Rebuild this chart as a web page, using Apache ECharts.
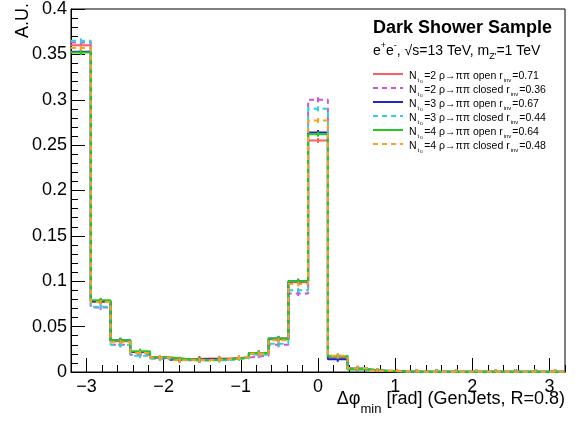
<!DOCTYPE html>
<html>
<head>
<meta charset="utf-8">
<script src="https://cdn.jsdelivr.net/npm/echarts@6/dist/echarts.min.js"></script>
<style>
html,body{margin:0;padding:0;background:#fff;}
#chart{width:575px;height:421px;}
</style>
</head>
<body>
<div id="chart"></div>
<script>
// Bin edges of the histogram (25 bins from -3.2 to 3.2)
const binEdges = [-3.2, -2.944, -2.688, -2.432, -2.176, -1.92, -1.664, -1.408, -1.152, -0.896, -0.64, -0.384, -0.128,
  0.128, 0.384, 0.64, 0.896, 1.152, 1.408, 1.664, 1.92, 2.176, 2.432, 2.688, 2.944, 3.2];

// Bin contents (A.U.) for each sample
const nc2Open   = [0.360, 0.077, 0.034, 0.022, 0.016, 0.014, 0.015, 0.015, 0.016, 0.020, 0.036, 0.099, 0.255, 0.016, 0.004, 0.0015, 0.0006, 0.0004, 0.0003, 0.0003, 0.0003, 0.0003, 0.0003, 0.0003, 0.0003];
const nc2Closed = [0.363, 0.071, 0.030, 0.019, 0.015, 0.013, 0.013, 0.014, 0.016, 0.018, 0.030, 0.0865, 0.300, 0.017, 0.004, 0.0015, 0.0006, 0.0004, 0.0003, 0.0003, 0.0003, 0.0003, 0.0003, 0.0003, 0.0003];
const nc3Open   = [0.353, 0.078, 0.035, 0.022, 0.016, 0.0135, 0.014, 0.014, 0.016, 0.021, 0.037, 0.100, 0.264, 0.014, 0.003, 0.001, 0.0005, 0.0004, 0.0003, 0.0003, 0.0003, 0.0003, 0.0003, 0.0003, 0.0003];
const nc3Closed = [0.365, 0.072, 0.030, 0.018, 0.015, 0.013, 0.013, 0.013, 0.015, 0.019, 0.031, 0.090, 0.290, 0.018, 0.004, 0.0015, 0.0006, 0.0004, 0.0003, 0.0003, 0.0003, 0.0003, 0.0003, 0.0003, 0.0003];
const nc4Open   = [0.352, 0.079, 0.035, 0.023, 0.016, 0.014, 0.013, 0.014, 0.016, 0.021, 0.037, 0.100, 0.262, 0.017, 0.003, 0.001, 0.0005, 0.0004, 0.0003, 0.0003, 0.0003, 0.0003, 0.0003, 0.0003, 0.0003];
const nc4Closed = [0.357, 0.077, 0.033, 0.021, 0.016, 0.013, 0.013, 0.014, 0.016, 0.020, 0.035, 0.097, 0.277, 0.018, 0.004, 0.0015, 0.0006, 0.0004, 0.0003, 0.0003, 0.0003, 0.0003, 0.0003, 0.0003, 0.0003];

const seriesNames = ['Nc2 open', 'Nc2 closed', 'Nc3 open', 'Nc3 closed', 'Nc4 open', 'Nc4 closed'];
const nValues = ['2', '2', '3', '3', '4', '4'];
const modes = ['open', 'closed', 'open', 'closed', 'open', 'closed'];
const rinvValues = ['0.71', '0.36', '0.67', '0.44', '0.64', '0.48'];

const xMajorTicks = [-3, -2, -1, 0, 1, 2, 3];
const yTicks = [0, 0.05, 0.1, 0.15, 0.2, 0.25, 0.3, 0.35, 0.4];

const colors = ['#ff5f5f', '#cc55dd', '#2424cc', '#30d0dc', '#22c922', '#ffa21f'];
const dashed = [false, true, false, true, false, true];
const allVals = [nc2Open, nc2Closed, nc3Open, nc3Closed, nc4Open, nc4Closed];

function histData(vals) {
  const d = vals.map((v, i) => [binEdges[i], v]);
  d.push([binEdges[vals.length], vals[vals.length - 1]]);
  return d;
}
function markerData(vals) {
  return vals.map((v, i) => [binEdges[i], binEdges[i + 1], v]);
}

const FONT = '"Liberation Sans", Arial, Helvetica, sans-serif';
const fmtMinus = v => String(v).replace('-', '\u2212');

const chart = echarts.init(document.getElementById('chart'), null, {renderer: 'canvas'});

const series = [];
allVals.forEach((vals, i) => {
  series.push({
    name: seriesNames[i],
    type: 'line',
    step: 'end',
    symbol: 'none',
    xAxisIndex: 0,
    yAxisIndex: 0,
    data: histData(vals),
    lineStyle: {color: colors[i], width: 2, type: dashed[i] ? [5, 4] : 'solid'},
    z: 2 + i
  });
});
allVals.forEach((vals, i) => {
  series.push({
    name: seriesNames[i] + ' err',
    type: 'custom',
    xAxisIndex: 0,
    yAxisIndex: 0,
    clip: true,
    z: 10 + i,
    data: markerData(vals),
    renderItem: function (params, api) {
      const a = api.coord([api.value(0), api.value(2)]);
      const b = api.coord([api.value(1), api.value(2)]);
      const cx = (a[0] + b[0]) / 2;
      return {
        type: 'line',
        shape: {x1: cx, y1: a[1] - 2.5, x2: cx, y2: a[1] + 2.5},
        style: {stroke: colors[i], lineWidth: 2}
      };
    }
  });
});

// legend graphics
const legendGraphics = [];
const legTop = 74, legStep = 14;
allVals.forEach((v, i) => {
  const y = legTop + i * legStep;
  legendGraphics.push({
    type: 'line',
    shape: {x1: 373, y1: y, x2: 403, y2: y},
    style: {stroke: colors[i], lineWidth: 2, lineDash: dashed[i] ? [5, 4] : null}
  });
  legendGraphics.push({
    type: 'text',
    x: 409, y: y + 2,
    style: {
      text: '{m|N}{s|t}{ss|D}{m|=' + nValues[i] + ' \u03C1\u2192\u03C0\u03C0 ' + modes[i] + ' r}{s|inv}{m|=' + rinvValues[i] + '}',
      verticalAlign: 'middle',
      rich: {
        m: {fontFamily: FONT, fontSize: 10.5, lineHeight: 10, fill: '#000', verticalAlign: 'top', padding: [0, 0, 0, 0]},
        s: {fontFamily: FONT, fontSize: 6, lineHeight: 6, fill: '#000', verticalAlign: 'top', padding: [6, 1, 0, 1]},
        ss: {fontFamily: FONT, fontSize: 4, lineHeight: 4, fill: '#000', verticalAlign: 'top', padding: [9, 1, 0, 0]}
      }
    }
  });
});

const option = {
  animation: false,
  backgroundColor: '#fff',
  grid: {left: 71, right: 10, top: 5, bottom: 49, show: true, borderColor: '#000', borderWidth: 1, backgroundColor: 'transparent'},
  xAxis: [{
    type: 'value', min: -3.2, max: 3.2, interval: 0.2,
    axisLine: {show: true, onZero: false, lineStyle: {color: '#000', width: 1}},
    axisTick: {show: true, inside: true, length: 7, lineStyle: {color: '#000'}},
    axisLabel: {show: false},
    splitLine: {show: false}
  }, {
    type: 'value', min: -3.2, max: 3.2, position: 'bottom',
    axisLine: {show: false, onZero: false},
    axisTick: {show: true, inside: true, length: 14, customValues: xMajorTicks, lineStyle: {color: '#000'}},
    axisLabel: {show: true, customValues: xMajorTicks, formatter: fmtMinus, margin: 6, fontFamily: FONT, fontSize: 18, color: '#000'},
    splitLine: {show: false}
  }],
  yAxis: [{
    type: 'value', min: 0, max: 0.4, interval: 0.05, position: 'left',
    axisLine: {show: true, onZero: false, lineStyle: {color: '#000', width: 1}},
    axisTick: {show: true, inside: true, length: 14, lineStyle: {color: '#000'}},
    minorTick: {show: true, splitNumber: 5, length: 7, lineStyle: {color: '#000'}},
    axisLabel: {show: true, margin: 4, fontFamily: FONT, fontSize: 18, color: '#000',
      formatter: v => { const t = yTicks.find(k => Math.abs(k - v) < 1e-9); return t === undefined ? '' : String(t); }},
    splitLine: {show: false}
  }],
  series: series,
  graphic: [
    {
      type: 'text', x: 23, y: 3, rotation: Math.PI / 2,
      style: {text: 'A.U.', fontFamily: FONT, fontSize: 18, fill: '#000', align: 'right', verticalAlign: 'middle'}
    },
    {
      type: 'text', x: 565, y: 390,
      style: {
        text: '{m|\u0394\u03C6}{s|min}{m| [rad] (GenJets, R=0.8)}',
        align: 'right', verticalAlign: 'top',
        rich: {
          m: {fontFamily: FONT, fontSize: 18, lineHeight: 18, fill: '#000', verticalAlign: 'top'},
          s: {fontFamily: FONT, fontSize: 13, lineHeight: 13, fill: '#000', verticalAlign: 'top', padding: [13, 0, 0, 0]}
        }
      }
    },
    {
      type: 'text', x: 373, y: 28,
      style: {text: 'Dark Shower Sample', fontFamily: FONT, fontSize: 18, fontWeight: 'bold', fill: '#000', verticalAlign: 'middle'}
    },
    {
      type: 'text', x: 373, y: 41,
      style: {
        text: '{m|e}{p|+}{m|e}{p|-}{m|, \u221As=13 TeV, m}{s|Z\'}{m|=1 TeV}',
        verticalAlign: 'top',
        rich: {
          m: {fontFamily: FONT, fontSize: 14, lineHeight: 14, fill: '#000', verticalAlign: 'top', padding: [3, 0, 0, 0]},
          p: {fontFamily: FONT, fontSize: 9, lineHeight: 9, fill: '#000', verticalAlign: 'top', padding: [0, 0, 0, 0]},
          s: {fontFamily: FONT, fontSize: 9, lineHeight: 9, fill: '#000', verticalAlign: 'top', padding: [11, 0, 0, 0]}
        }
      }
    }
  ].concat(legendGraphics)
};

chart.setOption(option);
</script>
</body>
</html>
